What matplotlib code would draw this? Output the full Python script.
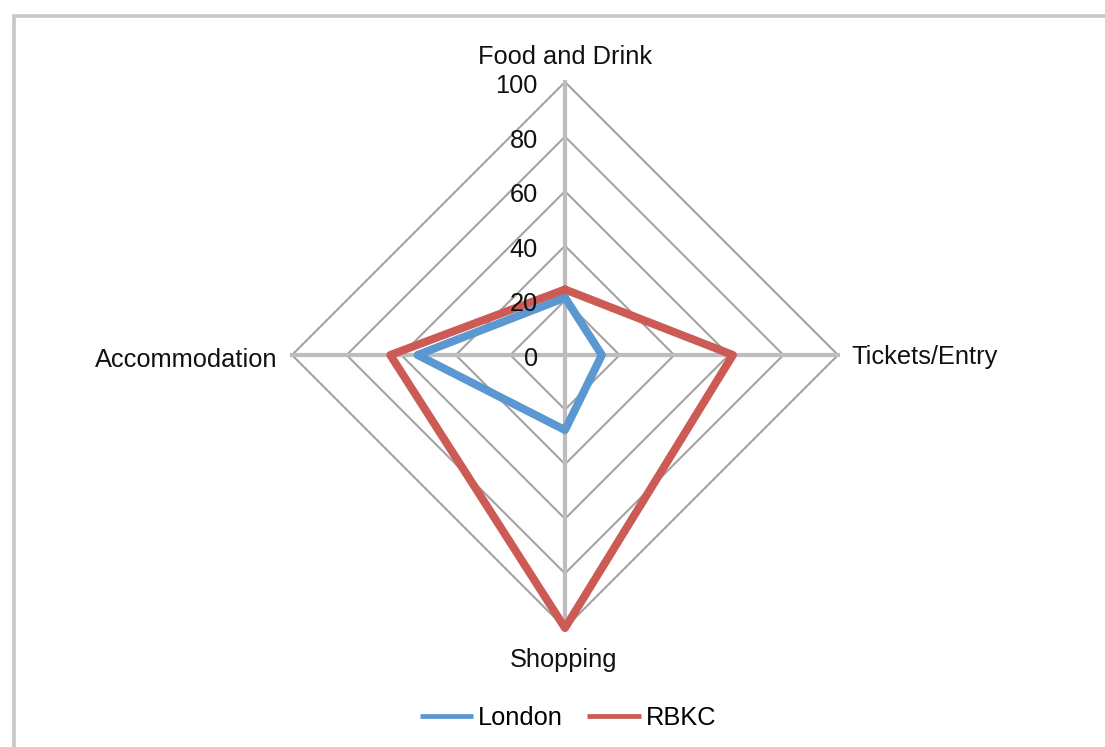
import numpy as np
import matplotlib
matplotlib.use('Agg')
import matplotlib.pyplot as plt
from matplotlib.patches import Rectangle

plt.rcParams['font.family'] = ['Liberation Sans', 'DejaVu Sans']

categories = ['Food and Drink', 'Tickets/Entry', 'Shopping', 'Accommodation']
london = [21, 13.5, 27.5, 54]
rbkc = [24, 61.5, 100, 64]
ticks = [0, 20, 40, 60, 80, 100]

blue = '#5b97d1'
red = '#cc5a55'

# clockwise from the top
angles = np.arange(len(categories)) * 2 * np.pi / len(categories)


def to_xy(values):
    v = np.asarray(values, dtype=float)
    xs = v * np.sin(angles)
    ys = v * np.cos(angles)
    return np.append(xs, xs[0]), np.append(ys, ys[0])


fig = plt.figure(figsize=(11.05, 7.47), dpi=100)
ax = fig.add_axes([0, 0, 1, 1])
scale = 2.73  # pixels per unit
ax.set_xlim(-565 / scale, (1105 - 565) / scale)
ax.set_ylim(-(747 - 355) / scale, 355 / scale)
ax.axis('off')

# outer chart frame (only top and left visible in the crop)
fig.patches.append(Rectangle((13.5 / 1105, -0.1), 1.2, 1 - 15.5 / 747 + 0.1,
                             transform=fig.transFigure, fill=False,
                             edgecolor='#c8c8c8', linewidth=2.6, zorder=0))

# grid rings
for t in ticks[1:]:
    gx, gy = to_xy([t] * len(categories))
    ax.plot(gx, gy, color='#a3a3a3', linewidth=1.5, zorder=1)

# spokes
for a in angles:
    ax.plot([0, 100 * np.sin(a)], [0, 100 * np.cos(a)], color='#bdbdbd',
            linewidth=3.0, zorder=1)

lx, ly = to_xy(london)
rx, ry = to_xy(rbkc)
l1, = ax.plot(lx, ly, color=blue, linewidth=5.8, solid_joinstyle='round',
              solid_capstyle='round', label='London', zorder=3)
l2, = ax.plot(rx, ry, color=red, linewidth=5.8, solid_joinstyle='round',
              solid_capstyle='round', label='RBKC', zorder=4)

fs = 18.3
for t in ticks:
    ax.text(-10, t - 1.5, str(t), ha='right', va='center', fontsize=fs,
            color='#111111', zorder=5)

ax.text(0, 109, categories[0], ha='center', va='center', fontsize=fs, color='#111111')
ax.text(105, -0.7, categories[1], ha='left', va='center', fontsize=fs, color='#111111')
ax.text(-0.7, -111.7, categories[2], ha='center', va='center', fontsize=fs, color='#111111')
ax.text(-105.5, -1.8, categories[3], ha='right', va='center', fontsize=fs, color='#111111')

leg = fig.legend(handles=[l1, l2], loc='center', bbox_to_anchor=(0.514, 0.039),
                 ncol=2, frameon=False, fontsize=fs, handlelength=2.1,
                 handletextpad=0.2, columnspacing=0.95)
for h in leg.legend_handles:
    h.set_linewidth(3.4)
    h.set_solid_capstyle('butt')

fig.savefig('out.png', dpi=100)
